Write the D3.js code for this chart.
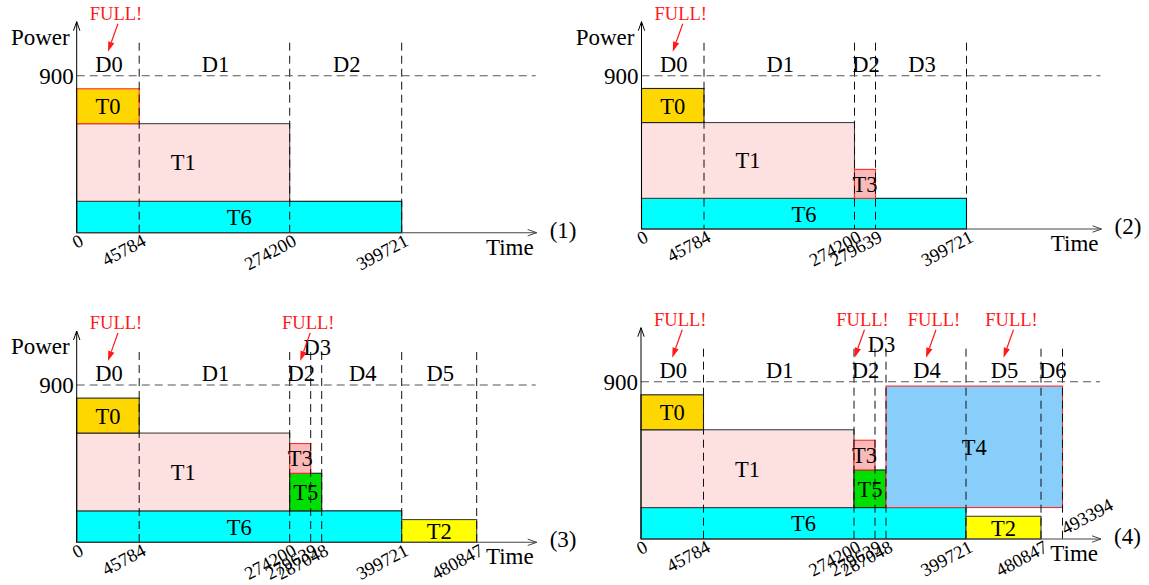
<!DOCTYPE html>
<html>
<head>
<meta charset="utf-8">
<script src="https://cdn.jsdelivr.net/npm/d3@7"></script>
<style>
  body { margin: 0; background: #fff; }
  svg { display: block; }
  text { font-family: "Liberation Serif", "Times New Roman", serif; fill: #000; }
</style>
</head>
<body>
<svg id="chart" width="1149" height="585"></svg>
<script>
// ---- data -------------------------------------------------------------
// Event times on the schedule
const breakpoints = [0, 45784, 274200, 279639, 287048, 399721, 480847, 493394];
const powerCap = 900;

// Power demand of each task
const taskNames = ["T0", "T1", "T2", "T3", "T4", "T5", "T6"];
const taskPower = [200, 445, 130, 170, 695, 215, 180];

// Time ticks shown in each scenario
const ticks1 = [0, 45784, 274200, 399721];
const ticks2 = [0, 45784, 274200, 279639, 399721];
const ticks3 = [0, 45784, 274200, 279639, 287048, 399721, 480847];
const ticks4 = [0, 45784, 274200, 279639, 287048, 399721, 480847, 493394];

// Scheduled tasks: [task, start, end, power level it sits on]
const bars1 = [["T6", 0, 399721, 0], ["T1", 0, 274200, 180], ["T0", 0, 45784, 625]];
const bars2 = [["T6", 0, 399721, 0], ["T1", 0, 274200, 180], ["T0", 0, 45784, 625],
               ["T3", 274200, 279639, 180]];
const bars3 = [["T6", 0, 399721, 0], ["T1", 0, 274200, 180], ["T0", 0, 45784, 625],
               ["T5", 274200, 287048, 180], ["T3", 274200, 279639, 395],
               ["T2", 399721, 480847, 0]];
const bars4 = [["T6", 0, 399721, 0], ["T1", 0, 274200, 180], ["T0", 0, 45784, 625],
               ["T5", 274200, 287048, 180], ["T3", 274200, 279639, 395],
               ["T4", 287048, 493394, 180], ["T2", 399721, 480847, 0]];

// Domains that reached the power cap
const full1 = ["D0"];
const full2 = ["D0"];
const full3 = ["D0", "D2"];
const full4 = ["D0", "D2", "D4", "D5"];

const scenarioLabels = ["(1)", "(2)", "(3)", "(4)"];

// ---- layout & style ---------------------------------------------------
// Schematic (non-proportional) spacing of the breakpoints along the time axis
const axisStops = [0, 62.5, 213, 234, 245, 325, 400, 421.5];
const axisLength = 460;

const panels = [
  { ticks: ticks1, bars: bars1, full: full1, label: scenarioLabels[0], x0: 76.7, base: 232.7, top: 75.7, power: true,  redT0: true },
  { ticks: ticks2, bars: bars2, full: full2, label: scenarioLabels[1], x0: 641.5, base: 229,   top: 75.7, power: true,  redT0: false },
  { ticks: ticks3, bars: bars3, full: full3, label: scenarioLabels[2], x0: 76.7, base: 542.3, top: 385,  power: true,  redT0: false },
  { ticks: ticks4, bars: bars4, full: full4, label: scenarioLabels[3], x0: 641,  base: 539,   top: 381.7, power: false, redT0: false }
];

const fill = { T0: "#ffd700", T1: "#fde0e0", T2: "#ffff00", T3: "#fbbaba", T4: "#87cefa", T5: "#00e000", T6: "#00ffff" };
const stroke = { T0: "#222", T1: "#444", T2: "#444", T3: "#ff2a2a", T4: "#ff2a2a", T5: "#222", T6: "#111" };
const fullNudge = { "3-D2": 0, "4-D2": -10 };
const ticksAbove = [493394];

const powerOf = Object.fromEntries(taskNames.map((t, i) => [t, taskPower[i]]));

const svg = d3.select("#chart");
svg.append("rect").attr("width", 1149).attr("height", 585).attr("fill", "#fff");

function openArrow(g, x, y, dir, color) {
  // dir: "up" or "right"
  const L = 9, W = 3.2;
  const pts = dir === "up"
    ? [[x - W, y + L], [x, y], [x + W, y + L]]
    : [[x - L, y - W], [x, y], [x - L, y + W]];
  g.append("path").attr("d", d3.line()(pts)).attr("fill", "none")
    .attr("stroke", color).attr("stroke-width", 1);
}

panels.forEach((p, pi) => {
  const g = svg.append("g");
  const x = d3.scaleLinear().domain(breakpoints).range(axisStops.map(v => p.x0 + v));
  const y = d3.scaleLinear().domain([0, powerCap]).range([p.base, p.top]);
  const axisEnd = p.x0 + axisLength;

  // task blocks
  g.selectAll("rect.task").data(p.bars).join("rect")
    .attr("class", "task")
    .attr("x", d => x(d[1]))
    .attr("y", d => y(d[3] + powerOf[d[0]]))
    .attr("width", d => x(d[2]) - x(d[1]))
    .attr("height", d => y(d[3]) - y(d[3] + powerOf[d[0]]))
    .attr("fill", d => fill[d[0]])
    .attr("stroke", d => (d[0] === "T0" && p.redT0) ? "#ff2a2a" : stroke[d[0]])
    .attr("stroke-width", 1.1);

  // task names
  g.selectAll("text.task").data(p.bars).join("text")
    .attr("class", "task")
    .attr("x", d => (x(d[1]) + x(d[2])) / 2)
    .attr("y", d => (y(d[3]) + y(d[3] + powerOf[d[0]])) / 2 + 8)
    .attr("text-anchor", "middle")
    .attr("font-size", 22.5)
    .text(d => d[0]);

  // domain boundaries
  const bounds = p.ticks.filter(t => t > 0);
  g.selectAll("line.bound").data(bounds).join("line")
    .attr("class", "bound")
    .attr("x1", d => x(d)).attr("x2", d => x(d))
    .attr("y1", y(powerCap) - 33).attr("y2", p.base)
    .attr("stroke", "#111").attr("stroke-width", 1)
    .attr("stroke-dasharray", "8,5");

  // power cap line
  g.append("line")
    .attr("x1", p.x0).attr("x2", axisEnd - 1)
    .attr("y1", y(powerCap)).attr("y2", y(powerCap))
    .attr("stroke", "#555").attr("stroke-width", 1.1)
    .attr("stroke-dasharray", "8,5");

  // axes
  const yTop = y(powerCap) - 54;
  g.append("line").attr("x1", p.x0).attr("x2", p.x0).attr("y1", p.base).attr("y2", yTop)
    .attr("stroke", "#000").attr("stroke-width", 1);
  openArrow(g, p.x0, yTop, "up", "#000");
  g.append("line").attr("x1", p.x0).attr("x2", axisEnd).attr("y1", p.base).attr("y2", p.base)
    .attr("stroke", "#444").attr("stroke-width", 1.1);
  openArrow(g, axisEnd, p.base, "right", "#444");

  // axis texts
  g.append("text").attr("x", p.x0 - 3).attr("y", y(powerCap) + 8)
    .attr("text-anchor", "end").attr("font-size", 23).text(powerCap);
  if (p.power) {
    g.append("text").attr("x", p.x0 - 7).attr("y", y(powerCap) - 31)
      .attr("text-anchor", "end").attr("font-size", 23).text("Power");
  }
  g.append("text").attr("x", axisEnd - 3).attr("y", p.base + 22)
    .attr("text-anchor", "end").attr("font-size", 23).text("Time");
  g.append("text").attr("x", axisEnd + 13).attr("y", p.base + 5)
    .attr("font-size", 23).text(p.label);

  // tick labels
  g.selectAll("text.tick").data(p.ticks).join("text")
    .attr("class", "tick")
    .attr("font-size", 18.5)
    .attr("text-anchor", d => ticksAbove.includes(d) ? "start" : "end")
    .attr("transform", d => ticksAbove.includes(d)
      ? `translate(${x(d) + 3},${p.base - 4}) rotate(-28)`
      : `translate(${x(d) + 8},${p.base + 12}) rotate(-28)`)
    .text(d => d);

  // domain names
  const domains = p.ticks.slice(1).map((t, i) => ({
    name: "D" + i, start: p.ticks[i], end: t
  }));
  domains.forEach(dm => {
    dm.cx = (x(dm.start) + x(dm.end)) / 2;
    dm.narrow = x(dm.end) - x(dm.start) < 15;
  });
  g.selectAll("text.domain").data(domains).join("text")
    .attr("class", "domain")
    .attr("x", d => d.cx + 1)
    .attr("y", d => y(powerCap) - (d.narrow ? 30 : 4))
    .attr("text-anchor", "middle").attr("font-size", 22.5)
    .text(d => d.name);

  // "FULL!" markers
  p.full.forEach(name => {
    const dm = domains.find(d => d.name === name);
    const cx = dm.cx + (fullNudge[(pi + 1) + "-" + name] || 0);
    const yc = y(powerCap);
    g.append("text").attr("x", cx + 8).attr("y", yc - 56)
      .attr("text-anchor", "middle").attr("font-size", 18.5)
      .style("fill", "#ff1a1a").text("FULL!");
    const x1 = cx + 10, y1 = yc - 52, x2 = cx, y2 = yc - 24;
    const ang = Math.atan2(y2 - y1, x2 - x1);
    const L = 10, W = 3.2;
    const bx = x2 - L * Math.cos(ang), by = y2 - L * Math.sin(ang);
    g.append("line").attr("x1", x1).attr("y1", y1).attr("x2", bx).attr("y2", by)
      .attr("stroke", "#ff1a1a").attr("stroke-width", 1.2);
    const head = [[x2, y2],
      [bx + W * Math.sin(ang), by - W * Math.cos(ang)],
      [bx - W * Math.sin(ang), by + W * Math.cos(ang)]];
    g.append("path").attr("d", d3.line()(head) + "Z").attr("fill", "#ff1a1a");
  });
});
</script>
</body>
</html>
